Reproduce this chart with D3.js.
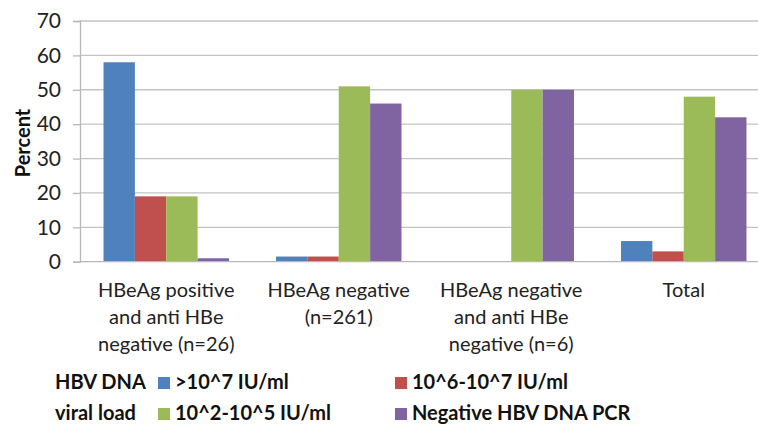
<!DOCTYPE html>
<html><head><meta charset="utf-8">
<script src="https://cdn.jsdelivr.net/npm/d3@7"></script>
<style>body{margin:0;background:#fff;} svg{display:block;font-family:Lato,"Open Sans",sans-serif;}</style>
</head><body>
<svg id="chart" width="758" height="425"></svg>
<script>
const categories = [
  ["HBeAg positive","and anti HBe","negative (n=26)"],
  ["HBeAg negative","(n=261)"],
  ["HBeAg negative","and anti HBe","negative (n=6)"],
  ["Total"]
];
const seriesNames = [">10^7 IU/ml","10^6-10^7 IU/ml","10^2-10^5 IU/ml","Negative HBV DNA PCR"];
const seriesColors = ["#4F81BD","#C0504D","#9BBB59","#8064A2"];
const s1 = [58, 1.5, 0, 6];
const s2 = [19, 1.5, 0, 3];
const s3 = [19, 51, 50, 48];
const s4 = [1, 46, 50, 42];
const yTicks = [0,10,20,30,40,50,60,70];

(function(){
const series = [s1,s2,s3,s4];
const svg = d3.select("#chart");
const mLeft = 80, mRight = 770, mTop = 21, mBottom = 261.7;
const idx = d3.range(categories.length);
const x0 = d3.scaleBand().domain(idx).range([mLeft,mRight]).padding(0);
const bw = x0.bandwidth()/5.5;
const x1 = d3.scaleBand().domain(d3.range(4)).range([bw*0.75, x0.bandwidth()-bw*0.75]).padding(0);
const y = d3.scaleLinear().domain([0,70]).range([mBottom, mTop]);

svg.append("g").selectAll("line").data(yTicks.filter(t=>t>0)).join("line")
  .attr("x1", mLeft).attr("x2", 758).attr("y1", d=>y(d)).attr("y2", d=>y(d))
  .attr("stroke","#c3c3c3").attr("stroke-width",1.3);

const yAxis = d3.axisLeft(y).tickValues(yTicks).tickSize(7).tickPadding(12);
const gy = svg.append("g").attr("transform",`translate(${mLeft},0)`).call(yAxis);
gy.select(".domain").attr("stroke","#b8b8b8").attr("stroke-width",1.3);
gy.selectAll(".tick line").attr("stroke","#b8b8b8").attr("stroke-width",1.3);
gy.selectAll(".tick text").attr("font-size",21).attr("fill","#222").attr("font-family","Lato");

const groups = svg.append("g").selectAll("g").data(idx).join("g")
  .attr("transform", i=>`translate(${x0(i)},0)`);
groups.selectAll("rect").data(i=>series.map((s,k)=>({k, v:s[i]}))).join("rect")
  .attr("x", d=>x1(d.k)).attr("width", x1.bandwidth())
  .attr("y", d=>y(d.v)).attr("height", d=>y(0)-y(d.v))
  .attr("fill", d=>seriesColors[d.k]);

svg.append("line").attr("x1",mLeft).attr("x2",758).attr("y1",y(0)).attr("y2",y(0))
  .attr("stroke","#b8b8b8").attr("stroke-width",1.3);

const cl = svg.append("g").selectAll("text").data(idx).join("text")
  .attr("x", i=>x0(i)+x0.bandwidth()/2).attr("y", 297)
  .attr("text-anchor","middle").attr("font-size",20).attr("fill","#222");
cl.selectAll("tspan").data(i=>categories[i]).join("tspan")
  .attr("x", function(){return this.parentNode.getAttribute("x");})
  .attr("dy",(d,j)=>j===0?0:27).text(d=>d);

svg.append("text").attr("transform","translate(30,143) rotate(-90)")
  .attr("text-anchor","middle").attr("font-size",20).attr("font-weight","bold").attr("fill","#111")
  .text("Percent");

svg.append("text").attr("x",55).attr("y",389).attr("font-size",20).attr("font-weight","bold").attr("fill","#111").text("HBV DNA");
svg.append("text").attr("x",55).attr("y",420).attr("font-size",20).attr("font-weight","bold").attr("fill","#111").text("viral load");
const legPos = [[158,389],[395,389],[158,420],[395,420]];
const lg = svg.append("g").selectAll("g").data(d3.range(4)).join("g")
  .attr("transform", k=>`translate(${legPos[k][0]},${legPos[k][1]})`);
lg.append("rect").attr("x",0).attr("y",-12).attr("width",12).attr("height",12).attr("fill",k=>seriesColors[k]);
lg.append("text").attr("x",17).attr("y",0).attr("font-size",20).attr("font-weight","bold").attr("fill","#111").text(k=>seriesNames[k]);
})();
</script>
</body></html>
